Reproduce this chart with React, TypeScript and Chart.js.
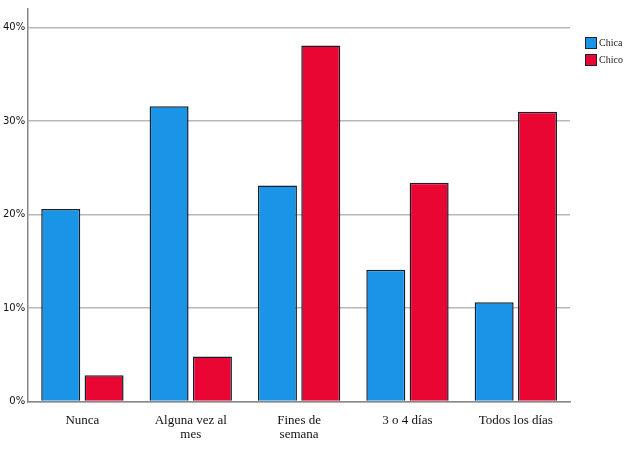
import React, { useEffect, useRef } from "react";
import { Chart, registerables } from "chart.js";
Chart.register(...registerables);

const categories = [["Nunca"], ["Alguna vez al", "mes"], ["Fines de", "semana"], ["3 o 4 días"], ["Todos los días"]];
const chica = [20.6, 31.6, 23.1, 14.1, 10.6];
const chico = [2.8, 4.8, 38.1, 23.4, 31.0];
const seriesNames = ["Chica", "Chico"];
const colors = ["#1a94e6", "#ea0633"];

const legendPlugin = {
  id: "customLegend",
  afterDraw(chart: any) {
    const ctx = chart.ctx;
    ctx.save();
    seriesNames.forEach((n, i) => {
      const y = 37 + i * 17;
      ctx.fillStyle = colors[i];
      ctx.fillRect(585, y, 12, 12);
      ctx.strokeStyle = "#222";
      ctx.lineWidth = 1;
      ctx.strokeRect(585.5, y + 0.5, 11, 11);
      ctx.fillStyle = "#222";
      ctx.font = "10px 'Liberation Serif'";
      ctx.textBaseline = "middle";
      ctx.fillText(n, 599, y + 6);
    });
    ctx.restore();
  },
};

export default function App() {
  const ref = useRef<HTMLCanvasElement>(null);
  useEffect(() => {
    const chart = new Chart(ref.current!, {
      type: "bar",
      data: {
        labels: categories as any,
        datasets: [
          { label: seriesNames[0], data: chica, backgroundColor: colors[0], borderColor: "#14202e", borderWidth: 1.5 },
          { label: seriesNames[1], data: chico, backgroundColor: colors[1], borderColor: "#14202e", borderWidth: 1.5 },
        ],
      },
      options: {
        animation: false,
        responsive: false,
        layout: { padding: { top: 4, right: 54, bottom: 4 } },
        plugins: { legend: { display: false }, tooltip: { enabled: false } },
        scales: {
          x: {
            grid: { display: false },
            border: { color: "#888", width: 1.5 },
            ticks: { color: "#111", font: { family: "Liberation Serif", size: 13, lineHeight: 1.1 }, padding: 4 },
            categoryPercentage: 0.8,
            barPercentage: 0.88,
          } as any,
          y: {
            min: 0,
            max: 42,
            grid: {
              color: (c: any) => (c.tick && c.tick.value % 10 === 0 ? "#b8b8b8" : "rgba(0,0,0,0)"),
              lineWidth: 1.5,
              tickLength: 0,
            },
            border: { color: "#888", width: 1.5 },
            ticks: {
              stepSize: 10,
              color: "#111",
              font: { family: "DejaVu Sans", size: 10 },
              callback: (v: any) => (v % 10 === 0 ? v + "%" : ""),
            },
          },
        },
      },
      plugins: [legendPlugin],
    });
    return () => chart.destroy();
  }, []);
  return (
    <div style={{ position: "absolute", left: 0, top: 0, background: "#fff" }}>
      <canvas ref={ref} width={624} height={450} />
    </div>
  );
}
